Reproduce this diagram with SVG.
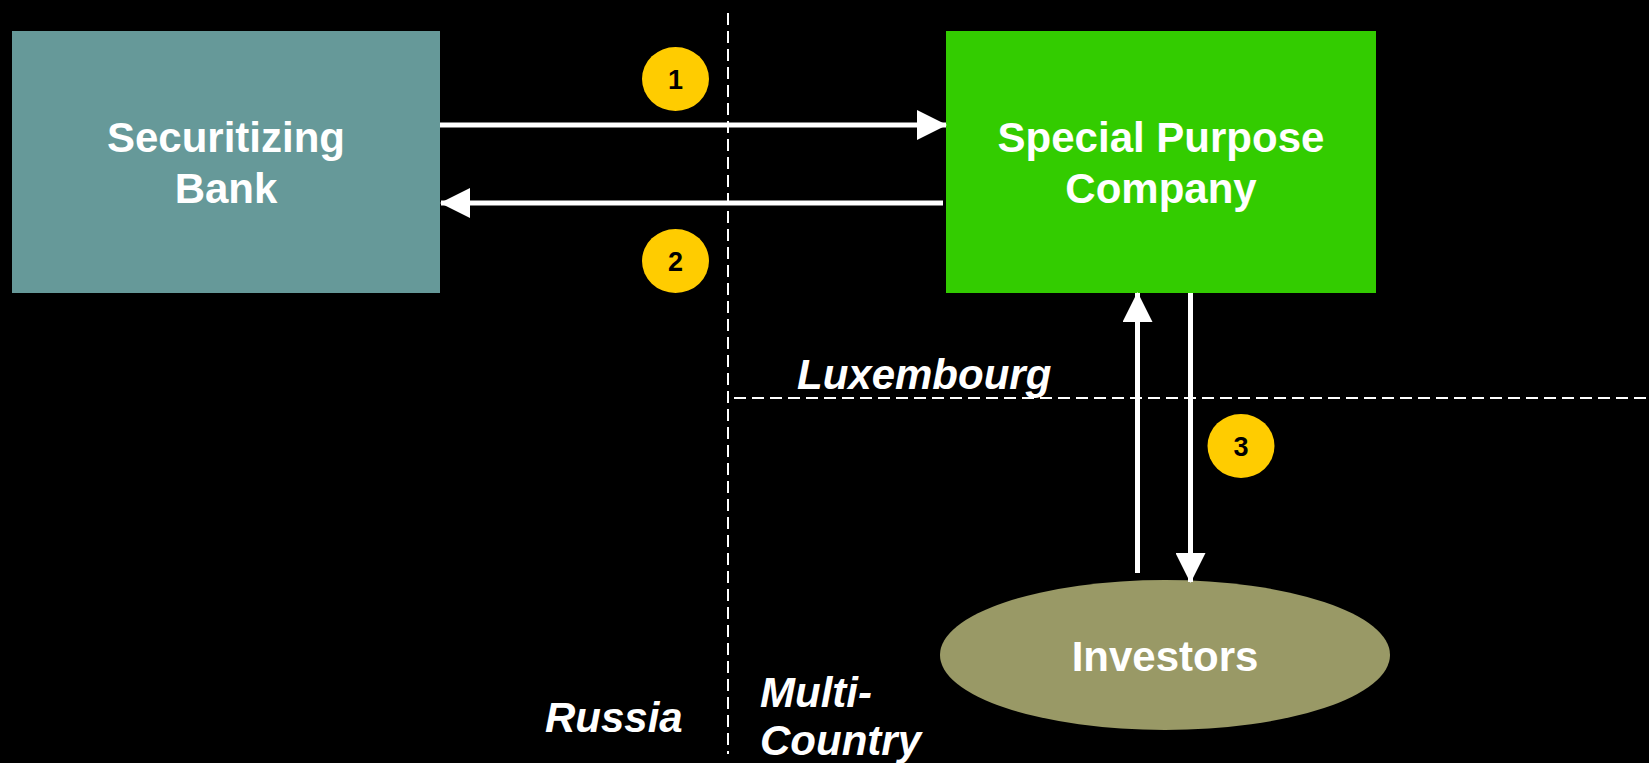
<svg xmlns="http://www.w3.org/2000/svg" width="1649" height="763" viewBox="0 0 1649 763">
<style>
.lbl{font-family:"Liberation Sans",Arial,sans-serif;font-weight:bold;fill:#fff;font-size:42px;text-anchor:middle}
.reg{font-family:"Liberation Sans",Arial,sans-serif;font-weight:bold;font-style:italic;fill:#fff;font-size:42px}
.num{font-family:"Liberation Sans",Arial,sans-serif;font-weight:bold;fill:#000;font-size:27px;text-anchor:middle}
.dash{stroke:#fff;stroke-width:2;stroke-dasharray:12 6;fill:none}
.conn{stroke:#fff;stroke-width:5;fill:none}
.badge{fill:#FFCC00}
</style>
<defs>
<marker id="ah" markerUnits="userSpaceOnUse" markerWidth="30" markerHeight="30" refX="29" refY="15" orient="auto">
<path d="M0,0 L30,15 L0,30 Z" fill="#fff"/>
</marker>
</defs>
<rect width="1649" height="763" fill="#000"/>
<g id="regions">
<line class="dash" x1="728" y1="13" x2="728" y2="754"/>
<line class="dash" x1="734" y1="398" x2="1649" y2="398"/>
<text class="reg" x="797" y="389">Luxembourg</text>
<text class="reg" x="545" y="732">Russia</text>
<text class="reg" x="760" y="707">Multi-</text>
<text class="reg" x="760" y="755">Country</text>
</g>
<g id="bank">
<rect x="12" y="31" width="428" height="262" fill="#669999"/>
<text class="lbl" x="226" y="152">Securitizing</text>
<text class="lbl" x="226" y="203">Bank</text>
</g>
<g id="spc">
<rect x="946" y="31" width="430" height="262" fill="#33CC00"/>
<text class="lbl" x="1161" y="152">Special Purpose</text>
<text class="lbl" x="1161" y="203">Company</text>
</g>
<g id="investors">
<ellipse cx="1165" cy="655" rx="225" ry="75" fill="#999966"/>
<text class="lbl" x="1165" y="671">Investors</text>
</g>
<g id="connectors">
<line class="conn" x1="440" y1="125" x2="946" y2="125" marker-end="url(#ah)"/>
<line class="conn" x1="943" y1="203" x2="441" y2="203" marker-end="url(#ah)"/>
<line class="conn" x1="1137.5" y1="573" x2="1137.5" y2="293" marker-end="url(#ah)"/>
<line class="conn" x1="1190.5" y1="293" x2="1190.5" y2="582" marker-end="url(#ah)"/>
</g>
<g id="badge1">
<ellipse class="badge" cx="675.5" cy="79" rx="33.5" ry="32"/>
<text class="num" x="675.5" y="89">1</text>
</g>
<g id="badge2">
<ellipse class="badge" cx="675.5" cy="261" rx="33.5" ry="32"/>
<text class="num" x="675.5" y="271">2</text>
</g>
<g id="badge3">
<ellipse class="badge" cx="1241" cy="446" rx="33.5" ry="32"/>
<text class="num" x="1241" y="456">3</text>
</g>
</svg>
